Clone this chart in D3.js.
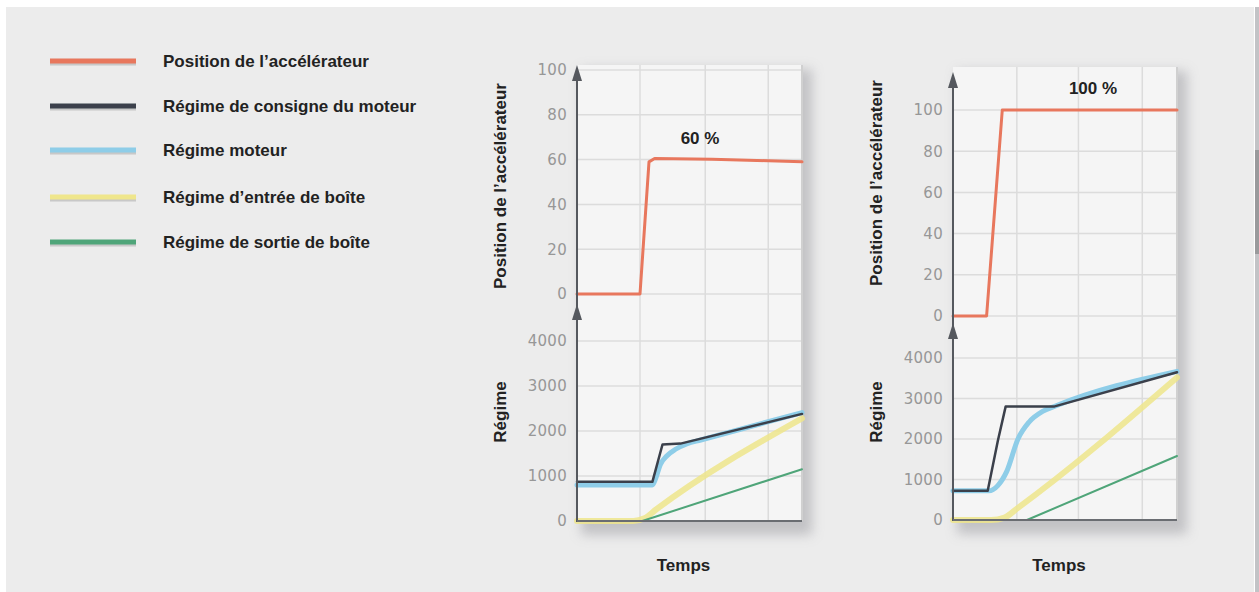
<!DOCTYPE html>
<html><head><meta charset="utf-8">
<script src="https://cdn.jsdelivr.net/npm/d3@7"></script>
<style>
html,body{margin:0;padding:0;background:#fff;}
svg{display:block;}
text{font-family:"Liberation Sans",Arial,sans-serif;}
text.tick-label{font-family:"DejaVu Sans",sans-serif;}
</style></head>
<body>
<script>
// ---------- DATA ----------
const legendLabels = ["Position de l\u2019accélérateur","Régime de consigne du moteur","Régime moteur","Régime d\u2019entrée de boîte","Régime de sortie de boîte"];
const seriesKeys = ["pedal","target","engine","gearIn","gearOut"];
const posTicks = [0,20,40,60,80,100];
const rpmTicks = [0,1000,2000,3000,4000];
const timeGrid60 = [2.8,5.7,8.5];
const timeGrid100 = [2.85,5.6,8.45];
// time in arbitrary units 0..10
const pedal60   = [[0,0],[2.8,0],[3.2,59],[3.45,60.5],[6,60.2],[10,59]];
const target60  = [[0,870],[3.35,870],[3.8,1700],[4.6,1720],[10,2380]];
const engine60  = [[0,800],[3.35,800],[3.5,950],[3.7,1250],[4.0,1450],[4.4,1600],[4.9,1720],[5.5,1800],[10,2410]];
const gearIn60  = [[0,0],[2.5,0],[3.0,60],[3.5,250],[10,2280]];
const gearOut60 = [[0,0],[2.9,0],[10,1150]];
const pedal100   = [[0,0],[1.5,0],[2.2,100],[10,100]];
const target100  = [[0,720],[1.55,720],[2.0,1950],[2.35,2800],[4.5,2800],[10,3650]];
const engine100  = [[0,720],[1.6,720],[2.0,850],[2.4,1200],[2.9,2000],[3.4,2420],[4.0,2680],[4.6,2820],[10,3670]];
const gearIn100  = [[0,0],[1.7,0],[2.3,60],[2.9,300],[10,3520]];
const gearOut100 = [[0,0],[3.3,0],[10,1580]];
const pctLabels = ["60 %","100 %"];
const yTitleTop = "Position de l\u2019accélérateur";
const yTitleBottom = "Régime";
const xTitle = "Temps";

// ---------- STYLE ----------
const colors = {pedal:"#e8775d",target:"#3b404b",engine:"#8ecde8",gearIn:"#efe68c",gearOut:"#4fa579"};
const widths = {pedal:3,target:2.5,engine:5,gearIn:6,gearOut:2};

const W=1259,H=592;
const svg=d3.select("body").append("svg").attr("width",W).attr("height",H);
const defs=svg.append("defs");
const f=defs.append("filter").attr("id","shadow").attr("filterUnits","userSpaceOnUse").attr("x",0).attr("y",0).attr("width",W).attr("height",H);
f.append("feGaussianBlur").attr("stdDeviation",6);
const fl=defs.append("filter").attr("id","soft").attr("filterUnits","userSpaceOnUse").attr("x",0).attr("y",0).attr("width",W).attr("height",H);
fl.append("feGaussianBlur").attr("stdDeviation",0.5);

// page panel
svg.append("rect").attr("x",6).attr("y",7).attr("width",1248).attr("height",585).attr("fill","#ececec");
svg.append("rect").attr("x",1255).attr("y",7).attr("width",4).attr("height",585).attr("fill","#c3c3c6");
svg.append("rect").attr("x",1255).attr("y",150).attr("width",4).attr("height",104).attr("fill","#9a9a9c");

// legend
const lg=svg.append("g");
const legY=[61,106,150,197,242];
seriesKeys.forEach((k,i)=>{
  lg.append("line").attr("x1",50).attr("x2",136).attr("y1",legY[i]+2).attr("y2",legY[i]+2)
    .attr("stroke","#c8c8c8").attr("stroke-width",5).attr("filter","url(#soft)");
  lg.append("line").attr("x1",50).attr("x2",136).attr("y1",legY[i]).attr("y2",legY[i])
    .attr("stroke",colors[k]).attr("stroke-width",5).attr("filter","url(#soft)");
  lg.append("text").attr("x",163).attr("y",legY[i]+6).text(legendLabels[i])
    .attr("font-size",17).attr("font-weight","bold").attr("fill","#222");
});

function chart(cfg){
  const g=svg.append("g");
  const x=d3.scaleLinear().domain([0,10]).range([cfg.x0,cfg.x1]);
  const yT=d3.scaleLinear().domain([0,100]).range([cfg.t0,cfg.t100]);
  const yB=d3.scaleLinear().domain([0,4000]).range([cfg.b0,cfg.b4000]);
  // shadow + plot
  g.append("rect").attr("x",cfg.x0+4).attr("y",cfg.top+4).attr("width",cfg.x1-cfg.x0+6).attr("height",cfg.b0-cfg.top+10)
    .attr("fill","#b4b4b8").attr("opacity",0.75).attr("filter","url(#shadow)");
  g.append("rect").attr("x",cfg.x0).attr("y",cfg.top).attr("width",cfg.x1-cfg.x0).attr("height",cfg.b0-cfg.top).attr("fill","#f5f5f5");
  // grid
  const gc="#dcdcdc";
  cfg.grid.forEach(t=>g.append("line").attr("x1",x(t)).attr("x2",x(t)).attr("y1",cfg.top).attr("y2",cfg.b0).attr("stroke",gc).attr("stroke-width",1.5));
  posTicks.forEach(v=>g.append("line").attr("x1",cfg.x0).attr("x2",cfg.x1).attr("y1",yT(v)).attr("y2",yT(v)).attr("stroke",gc).attr("stroke-width",1.5));
  rpmTicks.slice(1).forEach(v=>g.append("line").attr("x1",cfg.x0).attr("x2",cfg.x1).attr("y1",yB(v)).attr("y2",yB(v)).attr("stroke",gc).attr("stroke-width",1.5));
  g.append("line").attr("x1",cfg.x1).attr("x2",cfg.x1).attr("y1",cfg.top).attr("y2",cfg.b0).attr("stroke","#d0d0d0").attr("stroke-width",2);
  // axes ticks via d3.axisLeft
  const axT=g.append("g").attr("transform",`translate(${cfg.x0-10},0)`).call(d3.axisLeft(yT).tickValues(posTicks).tickFormat(d3.format("d")).tickSize(0).tickPadding(0));
  const axB=g.append("g").attr("transform",`translate(${cfg.x0-10},0)`).call(d3.axisLeft(yB).tickValues(rpmTicks).tickFormat(d3.format("d")).tickSize(0).tickPadding(0));
  [axT,axB].forEach(a=>{a.select(".domain").remove();a.selectAll("text").attr("class","tick-label").attr("font-size",15).attr("fill","#979797")
     .attr("letter-spacing",0.3);});
  // lines
  const lineLin=(ys)=>d3.line().x(d=>x(d[0])).y(d=>ys(d[1]));
  const lineSm=(ys)=>d3.line().x(d=>x(d[0])).y(d=>ys(d[1])).curve(d3.curveMonotoneX);
  const drawL=(data,k,ys,gen,op)=>g.append("path").datum(data).attr("d",gen(ys)).attr("fill","none")
      .attr("stroke",colors[k]).attr("stroke-width",widths[k]).attr("stroke-linejoin","round").attr("stroke-linecap","round")
      .attr("opacity",op||1).attr("filter","url(#soft)");
  drawL(cfg.gearIn,"gearIn",yB,lineSm,0.85);
  drawL(cfg.gearOut,"gearOut",yB,lineLin);
  drawL(cfg.engine,"engine",yB,lineSm);
  drawL(cfg.target,"target",yB,lineLin);
  drawL(cfg.pedal,"pedal",yT,lineLin);
  // axis lines
  const ac="#55585e";
  g.append("line").attr("x1",cfg.x0).attr("x2",cfg.x0).attr("y1",cfg.arrowTop+8).attr("y2",cfg.b0+1).attr("stroke",ac).attr("stroke-width",2);
  g.append("line").attr("x1",cfg.x0).attr("x2",cfg.x1).attr("y1",cfg.b0).attr("y2",cfg.b0).attr("stroke","#6a6d72").attr("stroke-width",2);
  [cfg.arrowTop,cfg.arrowMid].forEach(ty=>g.append("path").attr("d",`M${cfg.x0},${ty} L${cfg.x0-5},${ty+16} L${cfg.x0+5},${ty+16}Z`).attr("fill",ac));
  // titles
  const bold=(s)=>s.attr("font-size",17).attr("font-weight","bold").attr("fill","#222");
  bold(g.append("text").attr("transform",`translate(${cfg.x0-71},${cfg.titleTopY}) rotate(-90)`).attr("text-anchor","middle").text(yTitleTop));
  bold(g.append("text").attr("transform",`translate(${cfg.x0-71},412) rotate(-90)`).attr("text-anchor","middle").text(yTitleBottom));
  bold(g.append("text").attr("x",(cfg.x0+cfg.x1)/2-6).attr("y",571).attr("text-anchor","middle").text(xTitle));
  bold(g.append("text").attr("x",cfg.pctX).attr("y",cfg.pctY).attr("text-anchor","middle").text(cfg.pct));
}

chart({x0:577,x1:802,top:65,t0:294,t100:70,b0:521,b4000:341,arrowTop:65,arrowMid:304,grid:timeGrid60,titleTopY:186,
  pedal:pedal60,target:target60,engine:engine60,gearIn:gearIn60,gearOut:gearOut60,pct:pctLabels[0],pctX:700,pctY:144});
chart({x0:953,x1:1177,top:67,t0:316,t100:110,b0:520,b4000:358,arrowTop:72,arrowMid:323,grid:timeGrid100,titleTopY:183,
  pedal:pedal100,target:target100,engine:engine100,gearIn:gearIn100,gearOut:gearOut100,pct:pctLabels[1],pctX:1093,pctY:94});
</script>
</body></html>
